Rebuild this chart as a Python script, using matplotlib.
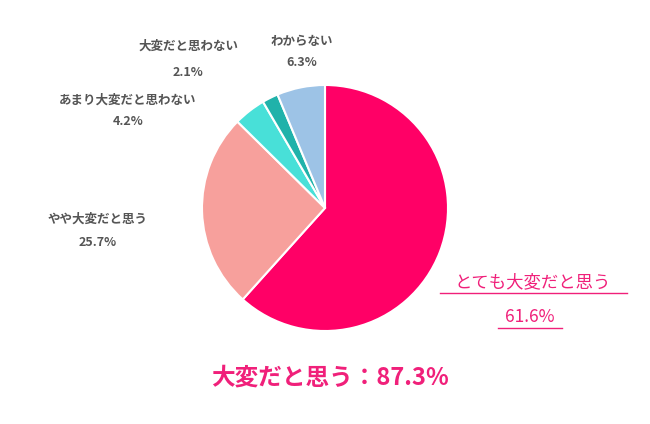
import matplotlib
matplotlib.use("Agg")
import matplotlib.pyplot as plt

plt.rcParams['font.family'] = ['Noto Sans CJK JP', 'DejaVu Sans']

labels = ["とても大変だと思う", "やや大変だと思う", "あまり大変だと思わない", "大変だと思わない", "わからない"]
values = [61.6, 25.7, 4.2, 2.1, 6.3]
colors = ["#FF0066", "#F7A09C", "#48E0D8", "#20B2AA", "#9DC3E6"]
total_label = "大変だと思う：87.3%"

W, H = 650, 424
fig = plt.figure(figsize=(6.5, 4.24), dpi=100)
ax = fig.add_axes([(325-123)/W, 1-(208+123)/H, 246/W, 246/H])
ax.pie(values, colors=colors, startangle=90, counterclock=False,
       wedgeprops=dict(edgecolor="white", linewidth=1.5))
ax.set_aspect('equal')
ax.set_xlim(-1, 1)
ax.set_ylim(-1, 1)

def ft(x, y, s, **kw):
    fig.text(x/W, 1-y/H, s, ha='center', va='center', **kw)

grey = "#555555"
ft(302, 42, labels[4], fontsize=9, color=grey, fontweight='bold')
ft(302, 63, f"{values[4]}%", fontsize=9, color=grey, fontweight='bold')
ft(188, 46, labels[3], fontsize=9, color=grey, fontweight='bold')
ft(188, 72, f"{values[3]}%", fontsize=9, color=grey, fontweight='bold')
ft(128, 100, labels[2], fontsize=9, color=grey, fontweight='bold')
ft(128, 121, f"{values[2]}%", fontsize=9, color=grey, fontweight='bold')
ft(98, 219, labels[1], fontsize=9, color=grey, fontweight='bold')
ft(98, 243, f"{values[1]}%", fontsize=9, color=grey, fontweight='bold')

pink = "#F0207A"
ft(533, 282, labels[0], fontsize=12.5, color=pink)
ft(530, 317, f"{values[0]}%", fontsize=12.5, color=pink)
fig.add_artist(plt.Line2D([440/W, 627/W], [1-293/H, 1-293/H], color=pink, lw=1))
fig.add_artist(plt.Line2D([498/W, 562/W], [1-328/H, 1-328/H], color=pink, lw=1))

ft(330, 378, total_label, fontsize=17, color=pink, fontweight='bold')

fig.savefig("out.png", dpi=100, facecolor="white")
